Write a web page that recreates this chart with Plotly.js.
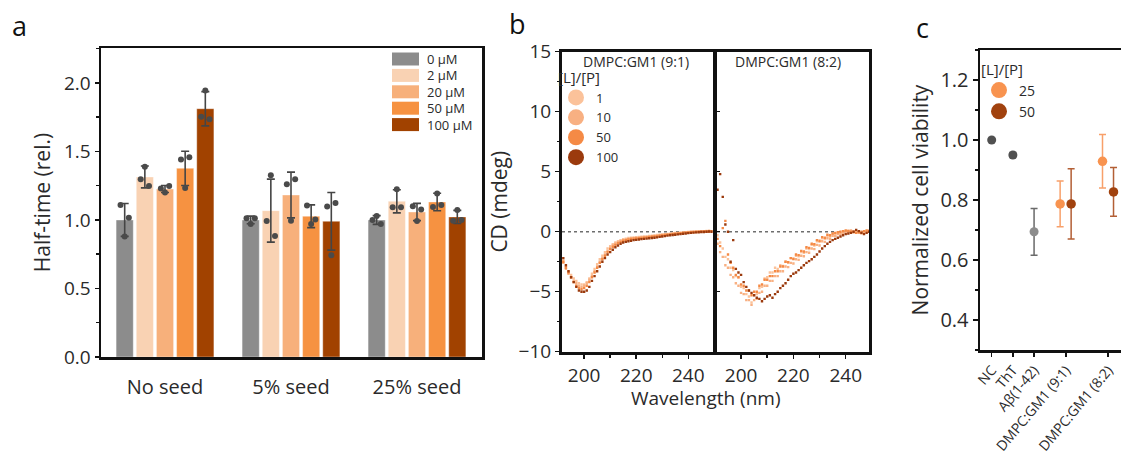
<!DOCTYPE html>
<html><head><meta charset="utf-8">
<script src="https://cdn.plot.ly/plotly-3.0.1.min.js"></script>
<style>html,body{margin:0;padding:0;overflow:hidden;background:#fff}#chart{width:1150px;height:459px}</style>
</head><body><div id="chart"></div>
<script>
// ---------- Panel a: half-time ----------
const groups = ['No seed', '5% seed', '25% seed'];
const concLabels = ['0 µM', '2 µM', '20 µM', '50 µM', '100 µM'];
const ht0 = [1.0, 1.0, 1.0];
const ht2 = [1.314, 1.068, 1.136];
const ht20 = [1.226, 1.182, 1.058];
const ht50 = [1.377, 1.027, 1.131];
const ht100 = [1.812, 0.99, 1.022];
const err0 = [0.12, 0.028, 0.032];
const err2 = [0.08, 0.23, 0.084];
const err20 = [0.026, 0.167, 0.063];
const err50 = [0.125, 0.083, 0.064];
const err100 = [0.125, 0.21, 0.048];
const pts0 = [1.109, 0.879, 1.017, 1.012, 0.971, 1.012, 1.0, 1.029, 0.971];
const pts2 = [1.297, 1.389, 1.248, 0.992, 1.326, 0.883, 1.092, 1.224, 1.092];
const pts20 = [1.23, 1.2, 1.248, 1.26, 0.995, 1.297, 1.1, 0.993, 1.077];
const pts50 = [1.442, 1.234, 1.457, 1.105, 0.971, 1.003, 1.095, 1.194, 1.109];
const pts100 = [1.754, 1.944, 1.735, 1.098, 0.742, 1.124, 0.995, 1.073, 1.0];
const yTicksA = [0, 0.5, 1.0, 1.5, 2.0];

// ---------- Panel b: CD spectra ----------
const wavelength = [191,192,193,194,195,196,197,198,199,200,201,202,203,204,205,206,207,208,209,210,
  211,212,213,214,215,216,217,218,219,220,221,222,223,224,225,226,227,228,229,230,
  231,232,233,234,235,236,237,238,239,240,241,242,243,244,245,246,247,248,249,250];
const lpLabels = ['1', '10', '50', '100'];
// DMPC:GM1 (9:1)
const cd91_1 = [-1.9,-2.4,-2.9,-3.3,-3.6,-3.9,-4.1,-4.3,-4.4,-4.4,-4.2,-3.9,-3.5,-3.1,-2.7,-2.3,-2.0,-1.7,-1.4,-1.2,
  -1.05,-0.9,-0.8,-0.7,-0.62,-0.58,-0.52,-0.5,-0.48,-0.45,-0.44,-0.42,-0.4,-0.4,-0.36,-0.33,-0.32,-0.28,-0.26,-0.22,
  -0.2,-0.18,-0.16,-0.12,-0.11,-0.1,-0.08,-0.06,-0.05,-0.02,0,0,0.02,0.03,0.05,0.04,0.06,0.08,0.05,0.04];
const cd91_10 = [-2.1,-2.6,-3.1,-3.5,-3.8,-4.1,-4.3,-4.5,-4.6,-4.5,-4.3,-4.0,-3.7,-3.3,-2.9,-2.5,-2.2,-1.9,-1.6,-1.35,
  -1.15,-1.0,-0.88,-0.78,-0.7,-0.64,-0.6,-0.56,-0.54,-0.52,-0.5,-0.48,-0.46,-0.44,-0.4,-0.38,-0.36,-0.33,-0.3,-0.27,
  -0.25,-0.22,-0.2,-0.17,-0.15,-0.13,-0.11,-0.09,-0.07,-0.05,-0.03,-0.02,0,0.01,0.02,0.03,0.04,0.05,0.03,0.02];
const cd91_50 = [-2.0,-2.5,-3.0,-3.4,-3.8,-4.2,-4.5,-4.7,-4.8,-4.7,-4.5,-4.2,-3.8,-3.4,-3.0,-2.6,-2.3,-2.0,-1.7,-1.45,
  -1.25,-1.1,-0.95,-0.85,-0.76,-0.7,-0.65,-0.6,-0.58,-0.56,-0.54,-0.52,-0.5,-0.47,-0.45,-0.42,-0.4,-0.37,-0.34,-0.31,
  -0.28,-0.25,-0.23,-0.2,-0.18,-0.15,-0.13,-0.1,-0.08,-0.06,-0.05,-0.03,-0.02,0,0.01,0.02,0.03,0.02,0.04,0.02];
const cd91_100 = [-1.6,-2.2,-2.8,-3.3,-3.8,-4.2,-4.6,-4.9,-5.0,-5.0,-4.9,-4.6,-4.1,-3.7,-3.3,-2.9,-2.5,-2.2,-1.9,-1.7,
  -1.5,-1.3,-1.15,-1.0,-0.9,-0.85,-0.8,-0.75,-0.7,-0.68,-0.65,-0.62,-0.6,-0.58,-0.55,-0.52,-0.5,-0.47,-0.43,-0.4,
  -0.37,-0.33,-0.3,-0.28,-0.25,-0.22,-0.2,-0.17,-0.15,-0.12,-0.1,-0.08,-0.06,-0.05,-0.03,-0.02,0,0.02,0,0.03];
// DMPC:GM1 (8:2)
const cd82_1 = [-0.3,-0.9,-1.4,-2.1,-2.3,-3.0,-3.2,-3.7,-3.8,-4.6,-4.7,-5.2,-5.4,-5.9,-5.3,-5.2,-4.7,-4.6,-3.9,-3.8,
  -3.4,-3.4,-3.0,-3.1,-2.8,-2.85,-2.5,-2.55,-2.2,-2.3,-2.0,-2.05,-1.7,-1.75,-1.4,-1.45,-1.1,-1.15,-0.8,-0.85,
  -0.55,-0.6,-0.35,-0.4,-0.2,-0.3,-0.1,-0.15,0,0.05,0.1,0.05,0,-0.05,-0.1,-0.15,-0.1,0,0.05,0.1];
const cd82_10 = [-1.0,-1.7,-2.1,-2.8,-3.0,-3.6,-3.8,-4.3,-4.5,-5.1,-5.2,-5.7,-5.7,-6.1,-5.7,-5.6,-5.1,-5.0,-4.5,-4.5,
  -4.1,-4.1,-3.7,-3.7,-3.3,-3.3,-2.9,-2.95,-2.6,-2.65,-2.3,-2.35,-2.0,-2.05,-1.7,-1.75,-1.4,-1.45,-1.1,-1.15,
  -0.8,-0.85,-0.55,-0.6,-0.35,-0.35,-0.2,-0.2,-0.1,0,0.05,0.1,0.05,0,-0.05,-0.1,-0.05,0.05,0.1,0.05];
const cd82_50 = [-0.6,-1.2,0.3,0.9,-1.9,-2.6,-3.0,-3.6,-3.8,-4.4,-4.5,-4.9,-4.9,-5.3,-5.0,-5.0,-4.5,-4.4,-4.0,-4.0,
  -3.7,-3.7,-3.3,-3.3,-2.9,-2.9,-2.5,-2.55,-2.2,-2.25,-1.9,-1.95,-1.6,-1.65,-1.3,-1.35,-1.0,-1.05,-0.7,-0.75,
  -0.45,-0.5,-0.25,-0.3,-0.15,-0.1,-0.05,0,0.05,0.1,0.05,0,-0.05,-0.1,-0.05,0,0.05,0.1,0.05,0];
const cd82_100 = [3.5,4.8,2.9,0.6,0.0,-2.5,-0.7,-3.1,-3.4,-3.6,-4.2,-4.6,-4.9,-5.1,-5.3,-5.5,-5.6,-5.8,-5.6,-5.4,
  -5.3,-5.5,-5.2,-5.0,-4.7,-4.5,-4.3,-4.0,-3.7,-3.5,-3.4,-3.2,-3.0,-2.8,-2.6,-2.45,-2.3,-2.1,-1.9,-1.65,
  -1.4,-1.2,-1.0,-0.85,-0.7,-0.6,-0.5,-0.4,-0.3,-0.2,-0.15,-0.1,0,0.15,0.05,-0.1,-0.2,-0.1,0,0.1];

// ---------- Panel c: cell viability ----------
const viabLabels = ['NC', 'ThT', 'Aβ(1-42)', 'DMPC:GM1 (9:1)', 'DMPC:GM1 (8:2)'];
const ctrlViab = [1.0, 0.95, 0.694];
const ctrlErr = [0, 0.008, 0.078];
const lp25Viab = [0.787, 0.929];
const lp25Err = [0.076, 0.089];
const lp50Viab = [0.787, 0.827];
const lp50Err = [0.117, 0.081];
const lpViabLabels = ['25', '50'];

// ---------- styling / layout ----------
const FONT = '"Open Sans", sans-serif';
const TXT = '#2a2a2a';
const W = 1150, H = 459;
const px = v => v / W, py = v => (H - v) / H;

const barColors = ['#8c8c8c', '#f9d2b3', '#f7b07b', '#f69241', '#a14200'];
const cdColors = ['#fbc29a', '#f8b082', '#f58a45', '#9b3a0d'];
const viabColors = {ctrl: ['#505050', '#505050', '#8c8c8c'], lp25: '#f8934f', lp50: '#a1420e'};

const traces = [];
const shapes = [];
const annotations = [];

// Panel a bars + points
const means = [ht0, ht2, ht20, ht50, ht100];
const errs = [err0, err2, err20, err50, err100];
const pts = [pts0, pts2, pts20, pts50, pts100];
const gx = groups.map((g, i) => i);
const SLOT = 0.16, JIT = [-0.033, 0, 0.033];
means.forEach((m, k) => {
  traces.push({type: 'bar', x: gx, y: m, name: concLabels[k], xaxis: 'x', yaxis: 'y',
    marker: {color: barColors[k], line: {color: 'rgba(255,255,255,0.6)', width: 0.6}},
    error_y: {type: 'data', array: errs[k], color: '#454545', thickness: 1.6, width: 4},
    showlegend: false, hoverinfo: 'y'});
});
pts.forEach((p, k) => {
  traces.push({type: 'scatter', mode: 'markers', xaxis: 'x', yaxis: 'y',
    x: p.map((v, j) => Math.floor(j / 3) + (k - 2) * SLOT + JIT[j % 3]), y: p,
    marker: {color: '#4a4a4a', size: 6}, showlegend: false, hoverinfo: 'y'});
});
// panel a legend (wide swatches)
concLabels.forEach((lab, k) => {
  const yc = 59 + k * 16.4;
  shapes.push({type: 'rect', xref: 'paper', yref: 'paper', x0: px(392), x1: px(419),
    y0: py(yc + 6.5), y1: py(yc - 6.5), fillcolor: barColors[k], line: {width: 0}});
  annotations.push({xref: 'paper', yref: 'paper', x: px(426), y: py(yc), text: lab, showarrow: false, borderpad: 0,
    xanchor: 'left', yanchor: 'middle', font: {size: 13, color: TXT, family: FONT}});
});

// Panel b
const left = [cd91_1, cd91_10, cd91_50, cd91_100];
const right = [cd82_1, cd82_10, cd82_50, cd82_100];
left.forEach((s, k) => traces.push({type: 'scatter', mode: 'markers', x: wavelength, y: s, xaxis: 'x2', yaxis: 'y2',
  marker: {symbol: 'square', size: 2.4, color: cdColors[k]}, showlegend: false, name: lpLabels[k]}));
right.forEach((s, k) => traces.push({type: 'scatter', mode: 'markers', x: wavelength, y: s, xaxis: 'x3', yaxis: 'y3',
  marker: {symbol: 'square', size: 2.4, color: cdColors[k]}, showlegend: false, name: lpLabels[k]}));
lpLabels.forEach((lab, k) => traces.push({type: 'scatter', mode: 'markers', x: [null], y: [null], xaxis: 'x2', yaxis: 'y2',
  name: lab, legend: 'legend2', marker: {size: 16, color: cdColors[k]}, showlegend: true}));
['2', '3'].forEach(n => shapes.push({type: 'line', xref: 'x' + n + ' domain', x0: 0, x1: 1, yref: 'y' + n, y0: 0, y1: 0,
  layer: 'below', line: {color: '#6e6e6e', width: 1.6, dash: 'dot'}}));

// Panel c
const catPos = [1, 2, 3, 4.5, 6.5];
traces.push({type: 'scatter', mode: 'markers', x: catPos.slice(0, 3), y: ctrlViab, xaxis: 'x4', yaxis: 'y4',
  marker: {size: 9, color: viabColors.ctrl}, error_y: {type: 'data', array: ctrlErr, color: '#6a6a6a', thickness: 1.5, width: 3.5},
  showlegend: false});
traces.push({type: 'scatter', mode: 'markers', x: catPos.slice(3).map(v => v - 0.27), y: lp25Viab, xaxis: 'x4', yaxis: 'y4',
  marker: {size: 9.5, color: viabColors.lp25}, error_y: {type: 'data', array: lp25Err, color: '#f8a06a', thickness: 1.5, width: 3.5},
  showlegend: false, name: '25'});
traces.push({type: 'scatter', mode: 'markers', x: catPos.slice(3).map(v => v + 0.25), y: lp50Viab, xaxis: 'x4', yaxis: 'y4',
  marker: {size: 9.5, color: viabColors.lp50}, error_y: {type: 'data', array: lp50Err, color: '#b35f35', thickness: 1.5, width: 3.5},
  showlegend: false, name: '50'});
lpViabLabels.forEach((lab, k) => traces.push({type: 'scatter', mode: 'markers', x: [null], y: [null], xaxis: 'x4', yaxis: 'y4',
  name: lab, legend: 'legend3', marker: {size: 16, color: k === 0 ? viabColors.lp25 : viabColors.lp50}, showlegend: true}));

// panel letters and text
const txt = (x, y, t, size, color) => ({xref: 'paper', yref: 'paper', x: px(x), y: py(y), text: t, showarrow: false,
  xanchor: 'center', yanchor: 'middle', font: {size: size, color: color || TXT, family: FONT}});
annotations.push(txt(19, 26, 'a', 27, '#111'), txt(517, 23, 'b', 27, '#111'), txt(922, 27, 'c', 27, '#111'));
annotations.push(txt(636, 61, 'DMPC:GM1 (9:1)', 14), txt(788, 61, 'DMPC:GM1 (8:2)', 14), txt(706, 398, 'Wavelength (nm)', 19));

const frame = w => ({showline: true, mirror: true, linecolor: '#111', linewidth: w, showgrid: false, zeroline: false,
  tickcolor: '#111', tickwidth: 1.5, tickfont: {size: 19, color: TXT, family: FONT}});

const layout = {
  width: W, height: H, margin: {l: 0, r: 0, t: 0, b: 0}, paper_bgcolor: '#fff', plot_bgcolor: '#fff',
  font: {family: FONT, color: TXT},
  barmode: 'group', bargap: 0.2, bargroupgap: 0.15,
  showlegend: true,
  xaxis: Object.assign(frame(2.5), {domain: [px(101), px(482)], range: [-0.508, 2.516], tickvals: gx, ticktext: groups,
    ticks: '', ticklabelstandoff: 10, anchor: 'y', tickfont: {size: 20, color: TXT, family: FONT}}),
  yaxis: Object.assign(frame(2.5), {domain: [py(357), py(48)], range: [0, 2.255], tickvals: yTicksA, tickformat: '.1f',
    ticks: 'outside', ticklen: 4, minor: {ticks: 'outside', ticklen: 2.5, dtick: 0.25, tickcolor: '#111'}, anchor: 'x',
    title: {text: 'Half-time (rel.)', font: {size: 21, color: TXT, family: FONT}, standoff: 8}}),
  xaxis2: Object.assign(frame(3), {domain: [px(562), px(712.5)], range: [191.5, 249.3], tick0: 200, dtick: 20,
    ticks: 'outside', ticklen: 4, minor: {ticks: 'outside', ticklen: 3, dtick: 10, tickcolor: '#111'}, anchor: 'y2'}),
  yaxis2: Object.assign(frame(3), {domain: [py(351.7), py(51.7)], range: [-10, 15], dtick: 5, ticks: 'outside', ticklen: 4,
    minor: {ticks: 'outside', ticklen: 2.5, dtick: 2.5, tickcolor: '#111'}, anchor: 'x2',
    title: {text: 'CD (mdeg)', font: {size: 21, color: TXT, family: FONT}, standoff: 6}}),
  xaxis3: Object.assign(frame(3), {domain: [px(717), px(869)], range: [190.8, 248.9], tick0: 200, dtick: 20,
    ticks: 'outside', ticklen: 4, minor: {ticks: 'outside', ticklen: 3, dtick: 10, tickcolor: '#111'}, anchor: 'y3'}),
  yaxis3: Object.assign(frame(3), {domain: [py(351.7), py(51.7)], range: [-10, 15], dtick: 5, ticks: 'inside', ticklen: 3,
    showticklabels: false, anchor: 'x3'}),
  xaxis4: Object.assign(frame(2.5), {domain: [px(980), px(1140)], range: [0.448, 8.0], tickvals: catPos, ticktext: viabLabels,
    tickangle: -50, ticks: 'outside', ticklen: 4, anchor: 'y4', tickfont: {size: 14, color: TXT, family: FONT}}),
  yaxis4: Object.assign(frame(2.5), {domain: [py(350), py(50)], range: [0.3, 1.3], tickvals: [0.4, 0.6, 0.8, 1.0, 1.2], tickformat: '.1f',
    ticks: 'outside', ticklen: 5, minor: {ticks: 'outside', ticklen: 3, dtick: 0.1, tickcolor: '#111'}, anchor: 'x4',
    tickfont: {size: 20, color: TXT, family: FONT},
    title: {text: 'Normalized cell viability', font: {size: 21, color: TXT, family: FONT}, standoff: 6}}),
  legend2: {x: px(556), y: py(63), xanchor: 'left', yanchor: 'top', bgcolor: 'rgba(0,0,0,0)', borderwidth: 0,
    font: {size: 13, color: TXT, family: FONT}, title: {text: '[L]/[P]', font: {size: 15, color: TXT, family: FONT}}, tracegroupgap: 0},
  legend3: {x: px(979), y: py(55), xanchor: 'left', yanchor: 'top', bgcolor: 'rgba(0,0,0,0)', borderwidth: 0,
    font: {size: 14, color: TXT, family: FONT}, title: {text: '[L]/[P]', font: {size: 15, color: TXT, family: FONT}}, tracegroupgap: 0},
  shapes: shapes, annotations: annotations
};

Plotly.newPlot('chart', traces, layout, {displayModeBar: false, staticPlot: true});
</script></body></html>
